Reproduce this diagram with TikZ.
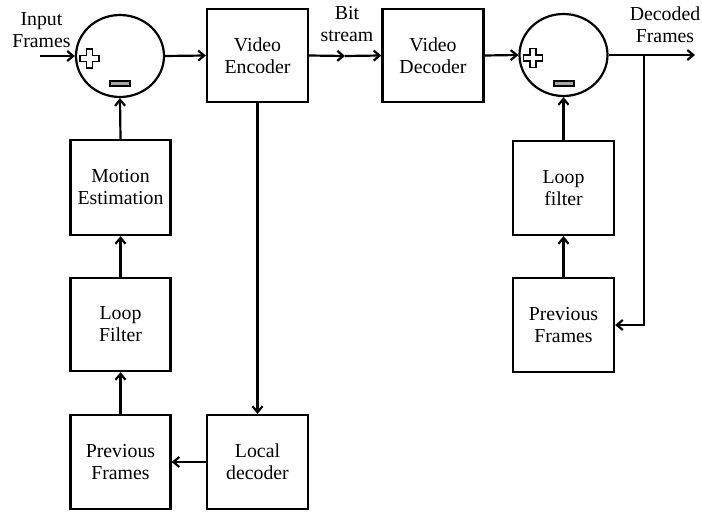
\documentclass[tikz,border=0pt]{standalone}
\usepackage{fontspec}
\setmainfont{Liberation Serif}
\usetikzlibrary{shapes.geometric,arrows.meta}

\tikzset{
  blk/.style={draw,minimum width=101pt,minimum height=93pt,align=center,font=\fontsize{19.8}{22}\selectfont},
  sumc/.style={draw,ellipse,minimum width=88pt,minimum height=82pt},
  lbl/.style={align=center,font=\fontsize{19.8}{22}\selectfont},
  sgnplus/.pic={\draw[line width=1.8pt,fill=white] (-3,-9.5) -- (3,-9.5) -- (3,-3) -- (9.5,-3) -- (9.5,3) -- (3,3)
                 -- (3,9.5) -- (-3,9.5) -- (-3,3) -- (-9.5,3) -- (-9.5,-3) -- (-3,-3) -- cycle;},
  sgnminus/.pic={\draw[line width=1.6pt,fill=gray!70] (-10,-2.5) rectangle (10,2.5);}
}

\begin{document}
\begin{tikzpicture}[x=1pt,y=-1pt,line width=2.2pt,>={Straight Barb[length=6pt,width=10pt]}]
            \useasboundingbox (0,0) rectangle (702,513);
            \draw (120,56)    node[sumc] (s1) {};
            \draw (257.5,55.5) node[blk] (enc) {Video\\Encoder};
            \draw (433,55.5)  node[blk] (dec) {Video\\Decoder};
            \draw (563.5,55)  node[sumc] (s2) {};
            \draw (120.5,187.5) node[blk,minimum width=100pt,minimum height=95pt] (me) {Motion\\Estimation};
            \draw (120.5,324.5) node[blk,minimum width=100pt] (lf1) {Loop\\Filter};
            \draw (120.5,462) node[blk,minimum width=100pt,minimum height=94pt] (pf1) {Previous\\Frames};
            \draw (257.5,462) node[blk,minimum height=94pt] (ld) {Local\\decoder};
            \draw (563.5,188) node[blk,minimum height=94pt] (lf2) {Loop\\filter};
            \draw (563.5,325) node[blk,minimum height=94pt] (pf2) {Previous\\Frames};
            \node[lbl] at (41.5,30) {Input\\Frames};
            \node[lbl] at (347,24) {Bit\\stream};
            \node[lbl] at (665,25) {Decoded\\Frames};
            \coordinate (in) at (40,56);
            \coordinate (bs) at (345,56);
            \coordinate (br) at (644,55);
            \coordinate (out) at (695,55);
            \pic at (89.5,58.5) {sgnplus};
            \pic at (120,83.5) {sgnminus};
            \pic at (533,58) {sgnplus};
            \pic at (564,83.5) {sgnminus};
            \draw[->] (in) -- (s1.west);
            \draw[->] (s1.east) -- (enc.west);
            \draw[->] (enc.east) -- (bs);
            \draw[->] (bs) -- (dec.west);
            \draw[->] (dec.east) -- (s2.west);
            \draw[->] (s2.east) -- (out);
            \draw[->] (br) |- (pf2.east);
            \draw[->] (pf2.north) -- (lf2.south);
            \draw[->] (lf2.north) -- (s2.south);
            \draw[->] (enc.south) -- (ld.north);
            \draw[->] (ld.west) -- (pf1.east);
            \draw[->] (pf1.north) -- (lf1.south);
            \draw[->] (lf1.north) -- (me.south);
            \draw[->] (me.north) -- (s1.south);
        \end{tikzpicture}
\end{document}
